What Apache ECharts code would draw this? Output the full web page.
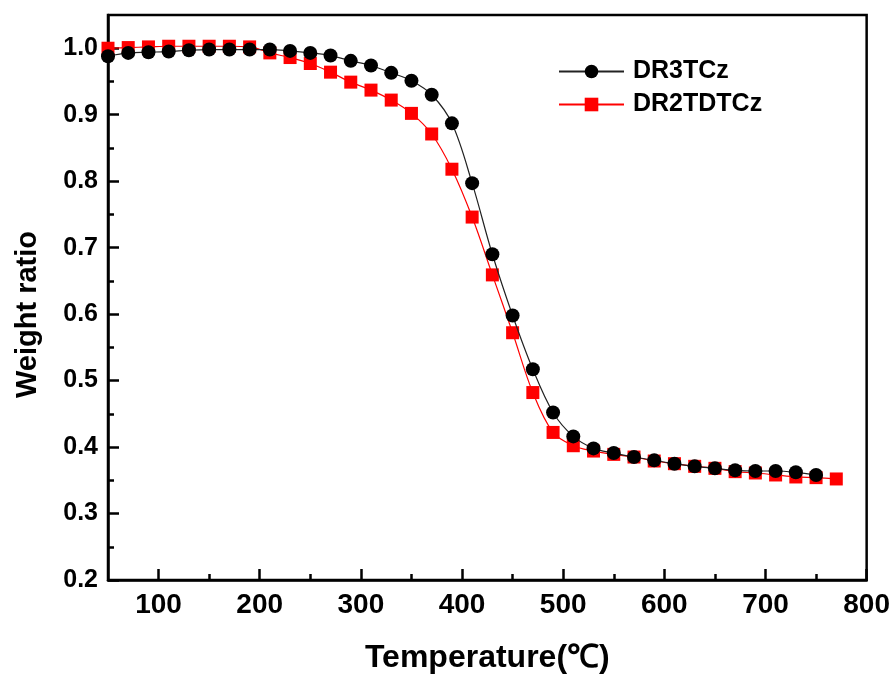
<!DOCTYPE html>
<html>
<head>
<meta charset="utf-8">
<script src="https://cdn.jsdelivr.net/npm/echarts@6/dist/echarts.min.js"></script>
<style>
  html, body { margin: 0; padding: 0; background: #fff; }
  #chart { width: 893px; height: 680px; }
</style>
</head>
<body>
<div id="chart"></div>
<script>
// temperatures (°C) at each marker
const tempsDR3 = [50, 70, 90, 110, 130, 150, 170, 190, 210, 230, 250, 270, 290, 310, 330, 350, 370, 390,
  410, 430, 450, 470, 490, 510, 530, 550, 570, 590, 610, 630, 650, 670, 690, 710, 730, 750];
const weightDR3 = [0.988, 0.993, 0.994, 0.995, 0.997, 0.998, 0.998, 0.998, 0.998, 0.996, 0.993, 0.989,
  0.981, 0.974, 0.963, 0.951, 0.930, 0.887, 0.797, 0.690, 0.598, 0.517, 0.452, 0.416, 0.398, 0.391,
  0.385, 0.380, 0.375, 0.371, 0.368, 0.365, 0.364, 0.364, 0.362, 0.358];

const tempsDR2 = [50, 70, 90, 110, 130, 150, 170, 190, 210, 230, 250, 270, 290, 310, 330, 350, 370, 390,
  410, 430, 450, 470, 490, 510, 530, 550, 570, 590, 610, 630, 650, 670, 690, 710, 730, 750, 770];
const weightDR2 = [1.000, 1.001, 1.002, 1.003, 1.003, 1.003, 1.003, 1.002, 0.993, 0.986, 0.977, 0.964,
  0.949, 0.937, 0.922, 0.902, 0.871, 0.818, 0.746, 0.659, 0.572, 0.482, 0.422, 0.402, 0.394, 0.389,
  0.385, 0.379, 0.375, 0.371, 0.368, 0.363, 0.361, 0.358, 0.355, 0.354, 0.352];

// axis ticks
const xMajor = [100, 200, 300, 400, 500, 600, 700, 800];
const xMinor = [150, 250, 350, 450, 550, 650, 750];
const yMajor = [0.2, 0.3, 0.4, 0.5, 0.6, 0.7, 0.8, 0.9, 1.0];
const yMinor = [0.25, 0.35, 0.45, 0.55, 0.65, 0.75, 0.85, 0.95];

const pairs = (xs, ys) => xs.map((x, i) => [x, ys[i]]);

const chart = echarts.init(document.getElementById('chart'));

const FONT = 'Liberation Sans, Arial, sans-serif';
const axisLine = { show: true, onZero: false, lineStyle: { color: '#000', width: 2.5 } };
const X_RANGE = { min: 50, max: 800 };
const Y_RANGE = { min: 0.2, max: 1.05 };

const option = {
  animation: false,
  backgroundColor: '#fff',
  grid: {
    left: 108, right: 26, top: 15, bottom: 100,
    show: true, borderColor: '#000', borderWidth: 2.5,
  },
  legend: {
    orient: 'vertical',
    left: 553,
    top: 54,
    itemWidth: 65,
    itemHeight: 17,
    itemGap: 8,
    textStyle: { fontFamily: FONT, fontWeight: 'bold', fontSize: 25, color: '#000', padding: [0, 0, 0, 4] },
    data: ['DR3TCz', 'DR2TDTCz'],
  },
  xAxis: [
    {
      type: 'value', ...X_RANGE,
      axisLine,
      splitLine: { show: false },
      axisTick: { show: true, inside: true, length: 11, customValues: xMajor, lineStyle: { color: '#000', width: 2.5 } },
      axisLabel: {
        customValues: xMajor, margin: 11,
        fontFamily: FONT, fontWeight: 'bold', fontSize: 28, color: '#000',
      },
      name: 'Temperature(℃)',
      nameLocation: 'middle',
      nameGap: 62,
      nameTextStyle: { fontFamily: FONT, fontWeight: 'bold', fontSize: 32, color: '#000' },
    },
    {
      type: 'value', ...X_RANGE, position: 'bottom',
      axisLine: { show: false },
      splitLine: { show: false },
      axisTick: { show: true, inside: true, length: 6, customValues: xMinor, lineStyle: { color: '#000', width: 2.5 } },
      axisLabel: { show: false },
    },
  ],
  yAxis: [
    {
      type: 'value', ...Y_RANGE,
      axisLine,
      splitLine: { show: false },
      axisTick: { show: true, inside: true, length: 11, customValues: yMajor, lineStyle: { color: '#000', width: 2.5 } },
      axisLabel: {
        customValues: yMajor, margin: 10,
        formatter: (v) => v.toFixed(1),
        fontFamily: FONT, fontWeight: 'bold', fontSize: 25, color: '#000',
      },
      name: 'Weight ratio',
      nameLocation: 'middle',
      nameGap: 66,
      nameTextStyle: { fontFamily: FONT, fontWeight: 'bold', fontSize: 29, color: '#000', padding: [0, 34, 0, 0] },
    },
    {
      type: 'value', ...Y_RANGE, position: 'left',
      axisLine: { show: false },
      splitLine: { show: false },
      axisTick: { show: true, inside: true, length: 6, customValues: yMinor, lineStyle: { color: '#000', width: 2.5 } },
      axisLabel: { show: false },
    },
  ],
  series: [
    {
      name: 'DR3TCz',
      type: 'line',
      z: 3,
      smooth: 0.35,
      data: pairs(tempsDR3, weightDR3),
      symbol: 'circle',
      symbolSize: 14,
      itemStyle: { color: '#000' },
      lineStyle: { color: '#222', width: 1.2 },
    },
    {
      name: 'DR2TDTCz',
      type: 'line',
      z: 2,
      smooth: 0.35,
      data: pairs(tempsDR2, weightDR2),
      symbol: 'rect',
      symbolSize: 13,
      itemStyle: { color: '#ff0000' },
      lineStyle: { color: '#ff0000', width: 1.2 },
    },
  ],
};

chart.setOption(option);
</script>
</body>
</html>
